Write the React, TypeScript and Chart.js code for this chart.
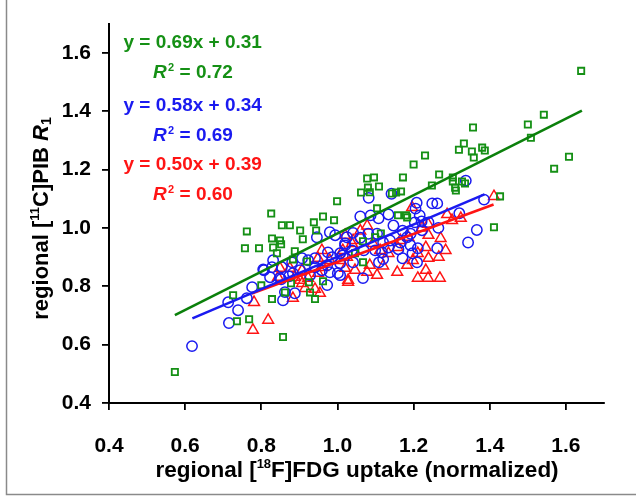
import React, { useEffect, useRef } from "react";
import { Chart, registerables } from "chart.js";

Chart.register(...registerables);

// ---------- data ----------
const greenX = [1.64, 1.542, 1.5, 1.508, 1.608, 1.569, 1.356, 1.332, 1.319, 1.353, 1.358, 1.38, 1.387, 1.23, 1.2, 1.267, 1.172, 1.096, 1.078, 1.303, 1.248, 1.303, 1.327, 1.335, 1.309, 1.311, 1.109, 1.08, 1.085, 1.062, 1.167, 1.154, 1.427, 1.104, 1.159, 1.18, 1.411, 1.114, 1.067, 0.999, 0.826, 0.962, 0.991, 0.938, 0.854, 0.875, 0.762, 0.902, 0.944, 0.828, 0.909, 0.849, 0.852, 0.757, 0.794, 0.831, 0.841, 0.888, 0.883, 0.92, 0.726, 0.8, 0.828, 0.862, 0.878, 0.925, 0.928, 0.941, 0.962, 0.736, 0.768, 0.857, 0.573, 1.046, 1.067, 1.143, 1.099, 1.183];
const greenY = [1.538, 1.388, 1.354, 1.309, 1.244, 1.203, 1.344, 1.289, 1.268, 1.262, 1.241, 1.275, 1.265, 1.248, 1.217, 1.183, 1.173, 1.173, 1.169, 1.173, 1.145, 1.159, 1.159, 1.152, 1.138, 1.128, 1.142, 1.138, 1.122, 1.121, 1.125, 1.121, 1.108, 1.067, 1.043, 1.043, 1.002, 0.981, 0.954, 1.091, 1.049, 1.039, 1.026, 1.019, 1.009, 1.009, 0.988, 0.991, 0.991, 0.964, 0.961, 0.957, 0.944, 0.93, 0.93, 0.933, 0.913, 0.92, 0.892, 0.885, 0.769, 0.803, 0.756, 0.779, 0.81, 0.814, 0.779, 0.756, 0.817, 0.68, 0.687, 0.626, 0.506, 0.913, 0.882, 1.118, 0.968, 1.036];

const blueX = [1.337, 1.082, 1.142, 1.208, 1.205, 1.216, 1.203, 1.221, 1.249, 1.262, 1.385, 1.32, 1.366, 1.343, 1.265, 1.239, 1.06, 1.087, 1.108, 1.134, 1.147, 1.171, 1.192, 1.041, 1.06, 1.104, 1.12, 1.099, 1.134, 1.16, 1.192, 1.197, 1.262, 1.02, 1.038, 0.946, 0.98, 0.994, 0.831, 0.805, 0.854, 0.881, 1.025, 1.081, 1.138, 1.165, 1.183, 1.222, 1.069, 1.014, 1.041, 1.117, 1.12, 1.171, 1.211, 1.209, 1.067, 1.109, 1.007, 0.973, 0.98, 0.713, 0.739, 0.715, 0.618, 0.762, 0.776, 0.807, 0.823, 0.828, 0.852, 0.862, 0.873, 0.857, 0.888, 0.902, 0.928, 0.941, 0.973, 0.923, 0.941, 0.959, 0.975, 0.986, 1.007, 1.02, 1.007, 1.001, 0.907, 0.849, 0.883];
const blueY = [1.162, 1.103, 1.117, 1.086, 1.066, 1.043, 1.019, 1.022, 1.084, 1.084, 1.097, 1.05, 0.993, 0.95, 1.0, 1.019, 1.039, 1.043, 1.033, 1.046, 1.008, 0.99, 0.98, 0.983, 0.966, 0.98, 0.95, 0.923, 0.933, 0.927, 0.94, 0.913, 0.93, 0.94, 0.923, 0.968, 0.985, 0.975, 0.889, 0.858, 0.865, 0.882, 0.968, 0.98, 0.957, 0.95, 0.968, 0.992, 0.923, 0.906, 0.882, 0.916, 0.893, 0.896, 0.93, 0.882, 0.828, 0.882, 0.838, 0.804, 0.848, 0.745, 0.718, 0.674, 0.595, 0.759, 0.797, 0.855, 0.831, 0.865, 0.824, 0.78, 0.834, 0.752, 0.776, 0.855, 0.838, 0.865, 0.872, 0.889, 0.896, 0.855, 0.916, 0.9, 0.913, 0.947, 0.879, 0.845, 0.896, 0.828, 0.845];

const redX = [1.411, 1.288, 1.301, 1.324, 1.222, 1.238, 1.196, 1.232, 1.284, 1.266, 1.239, 1.211, 1.158, 1.134, 1.186, 1.165, 1.078, 1.06, 1.02, 1.093, 1.112, 1.038, 1.014, 1.239, 1.271, 1.183, 1.157, 1.232, 1.211, 1.238, 1.269, 1.104, 1.078, 1.046, 1.02, 1.007, 1.028, 1.085, 1.198, 0.954, 0.849, 0.781, 0.818, 0.778, 0.883, 0.902, 0.915, 0.941, 0.923, 0.949, 0.962, 0.959, 0.949, 0.98, 0.888, 0.844, 0.875, 0.907, 1.025, 1.041, 0.907, 1.028, 1.12];
const redY = [1.108, 1.046, 1.026, 1.033, 1.0, 1.013, 1.07, 0.933, 0.923, 0.9, 0.896, 0.913, 0.933, 0.913, 0.968, 0.957, 1.007, 0.99, 0.975, 0.947, 0.923, 0.947, 0.923, 0.975, 0.964, 0.872, 0.848, 0.855, 0.828, 0.828, 0.828, 0.838, 0.848, 0.855, 0.862, 0.889, 0.821, 0.872, 0.889, 0.776, 0.862, 0.745, 0.684, 0.65, 0.759, 0.821, 0.793, 0.79, 0.828, 0.845, 0.865, 0.923, 0.896, 0.889, 0.831, 0.831, 0.862, 0.855, 0.9, 0.957, 0.81, 0.814, 0.87];

// regression line end points
const greenFitX = [0.573, 1.642];
const greenFitY = [0.701, 1.402];
const blueFitX = [0.619, 1.386];
const blueFitY = [0.69, 1.115];
const redFitX = [0.775, 1.41];
const redFitY = [0.775, 1.08];

const equations = ["y = 0.69x + 0.31", "y = 0.58x + 0.34", "y = 0.50x + 0.39"];
const rSquared = ["0.72", "0.69", "0.60"];

const xTitle = ["regional [", "18", "F]FDG uptake (normalized)"];
const yTitle = ["regional [", "11", "C]PIB ", "R", "1"];

const GREEN = "#159015";
const GREEN_LINE = "#0b800b";
const BLUE = "#1a1af0";
const RED = "#ff1414";
const FONT = '"Liberation Sans", Arial, Helvetica, sans-serif';

const zip = (xs: number[], ys: number[]) => xs.map((x, i) => ({ x, y: ys[i] }));

type Part = { t: string; size: number; italic?: boolean; dy?: number };

function drawParts(ctx: CanvasRenderingContext2D, parts: Part[], x: number, y: number, color: string, align: "left" | "center") {
  const widths = parts.map((p) => {
    ctx.font = `${p.italic ? "italic " : ""}bold ${p.size}px ${FONT}`;
    return ctx.measureText(p.t).width;
  });
  const total = widths.reduce((a, b) => a + b, 0);
  let cx = align === "center" ? x - total / 2 : x;
  ctx.fillStyle = color;
  ctx.textBaseline = "alphabetic";
  ctx.textAlign = "left";
  parts.forEach((p, i) => {
    ctx.font = `${p.italic ? "italic " : ""}bold ${p.size}px ${FONT}`;
    ctx.fillText(p.t, cx, y + (p.dy || 0));
    cx += widths[i];
  });
}

const textPlugin = {
  id: "texts",
  afterDraw(chart: any) {
    const ctx: CanvasRenderingContext2D = chart.ctx;
    ctx.save();
    const colors = [GREEN, BLUE, RED];
    const eqBase = [48, 110.5, 170];
    equations.forEach((eq, i) => {
      drawParts(ctx, [{ t: eq, size: 19 }], 123.5, eqBase[i], colors[i], "left");
      drawParts(
        ctx,
        [
          { t: "R", size: 19, italic: true },
          { t: " ", size: 5 },
          { t: "2", size: 11, dy: -7 },
          { t: " = " + rSquared[i], size: 19 },
        ],
        153,
        eqBase[i] + 30,
        colors[i],
        "left"
      );
    });

    // x axis title
    drawParts(
      ctx,
      [
        { t: xTitle[0], size: 22.5 },
        { t: xTitle[1], size: 13, dy: -9 },
        { t: xTitle[2], size: 22.5 },
      ],
      357,
      477,
      "#000",
      "center"
    );

    // y axis title
    ctx.translate(47.5, 218.5);
    ctx.rotate(-Math.PI / 2);
    drawParts(
      ctx,
      [
        { t: yTitle[0], size: 22 },
        { t: yTitle[1], size: 13, dy: -9 },
        { t: yTitle[2], size: 22 },
        { t: yTitle[3], size: 22, italic: true },
        { t: yTitle[4], size: 14, dy: 3 },
      ],
      0,
      0,
      "#000",
      "center"
    );
    ctx.restore();

    // frame
    ctx.save();
    ctx.strokeStyle = "#8a8a8a";
    ctx.lineWidth = 1.5;
    ctx.beginPath();
    ctx.moveTo(6.5, 0);
    ctx.lineTo(6.5, 494.5);
    ctx.lineTo(636, 494.5);
    ctx.stroke();
    ctx.restore();
  },
};

export default function App() {
  const ref = useRef<HTMLCanvasElement | null>(null);

  useEffect(() => {
    if (!ref.current) return;
    const tickFont = { family: FONT, size: 21, weight: "bold" as const };
    const chart = new Chart(ref.current, {
      type: "scatter",
      data: {
        datasets: [
          { label: "fitGreen", data: zip(greenFitX, greenFitY), showLine: true, borderColor: GREEN_LINE, borderWidth: 2.6, pointRadius: 0, order: 0 },
          { label: "fitBlue", data: zip(blueFitX, blueFitY), showLine: true, borderColor: BLUE, borderWidth: 2.6, pointRadius: 0, order: 0 },
          { label: "fitRed", data: zip(redFitX, redFitY), showLine: true, borderColor: RED, borderWidth: 2.6, pointRadius: 0, order: 0 },
          { label: "squares", data: zip(greenX, greenY), pointStyle: "rect", pointRadius: 4.4, borderColor: GREEN, backgroundColor: "rgba(0,0,0,0)", borderWidth: 1.8, order: 1 },
          { label: "circles", data: zip(blueX, blueY), pointStyle: "circle", pointRadius: 5.2, borderColor: BLUE, backgroundColor: "rgba(0,0,0,0)", borderWidth: 1.5, order: 2 },
          { label: "triangles", data: zip(redX, redY), pointStyle: "triangle", pointRadius: 6.2, borderColor: RED, backgroundColor: "rgba(0,0,0,0)", borderWidth: 1.5, order: 3 },
        ],
      },
      options: {
        responsive: false,
        animation: false,
        devicePixelRatio: 1,
        layout: { padding: { left: 0, top: 23, right: 32, bottom: 0 } },
        plugins: { legend: { display: false }, tooltip: { enabled: false } },
        scales: {
          x: {
            type: "linear",
            min: 0.4,
            max: 1.7,
            ticks: { stepSize: 0.2, includeBounds: false, font: tickFont, color: "#000", padding: 24, callback: (v: any) => Number(v).toFixed(1) },
            grid: { display: true, drawOnChartArea: false, drawTicks: true, tickLength: 7, color: "#000", lineWidth: 1.8 },
            border: { display: true, color: "#000", width: 2 },
            afterFit: (s: any) => { s.height = 93; },
          },
          y: {
            type: "linear",
            min: 0.4,
            max: 1.7,
            ticks: { stepSize: 0.2, includeBounds: false, font: tickFont, color: "#000", padding: 11, callback: (v: any) => Number(v).toFixed(1) },
            grid: { display: true, drawOnChartArea: false, drawTicks: true, tickLength: 7, color: "#000", lineWidth: 1.8 },
            border: { display: true, color: "#000", width: 2 },
            afterFit: (s: any) => { s.width = 109; },
          },
        },
      },
      plugins: [textPlugin],
    } as any);
    return () => chart.destroy();
  }, []);

  return (
    <div style={{ position: "fixed", left: 0, top: 0, width: 636, height: 496, background: "#fff" }}>
      <canvas ref={ref} width={636} height={496} style={{ display: "block" }} />
    </div>
  );
}
